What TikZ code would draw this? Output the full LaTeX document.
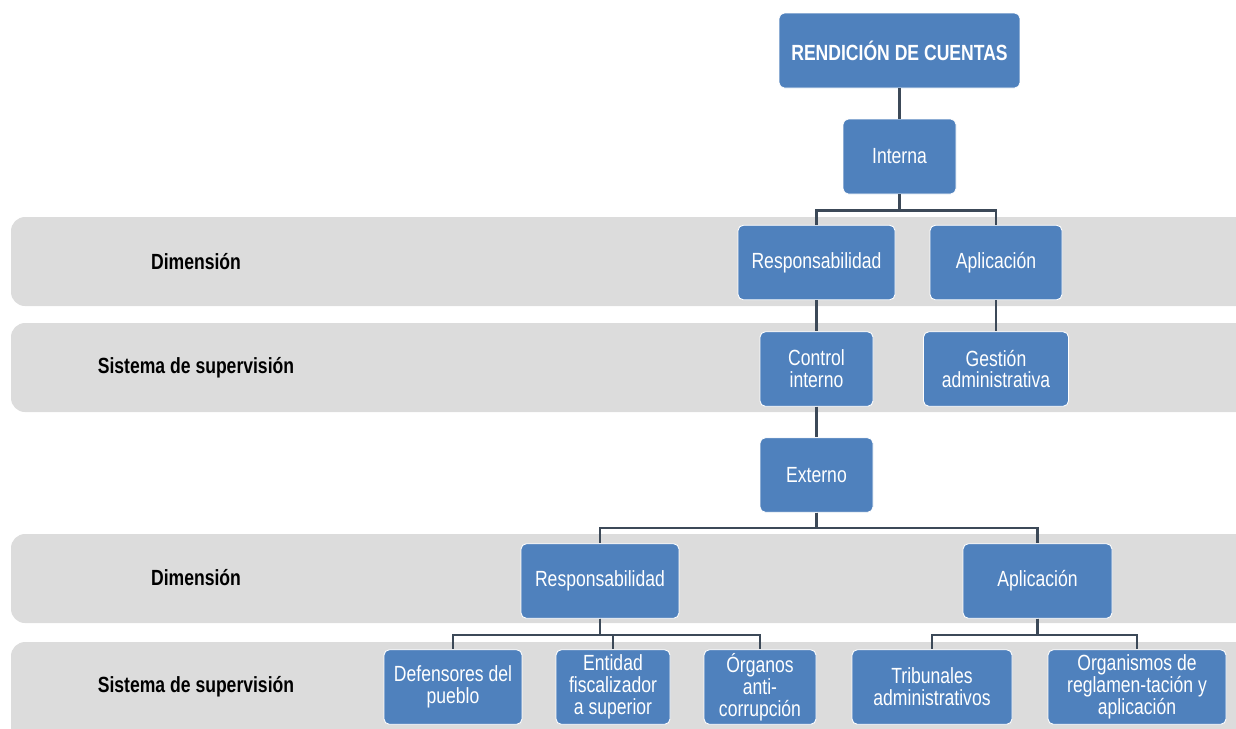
\documentclass[tikz,border=0pt]{standalone}
\usepackage{fontspec}
\setmainfont{Liberation Sans}[FakeStretch=0.8]
\usepackage{tikz}
\definecolor{azul}{HTML}{4F81BD}
\definecolor{franja}{HTML}{DCDCDC}
\definecolor{linea}{HTML}{3C4958}
\newcommand{\tamano}{\fontsize{12.5}{12.5}\selectfont}
\tikzstyle{caja}=[draw=white, line width=0.5pt, fill=azul, rounded corners=3pt, text=white, align=center, inner sep=0pt, minimum height=1.49cm, font=\tamano]
\tikzstyle{etiqueta}=[align=center, font=\tamano\bfseries]
\tikzstyle{conector}=[draw=linea, line width=1.3pt]

\begin{document}
\begin{tikzpicture}[x=0.02cm,y=-0.02cm]
\useasboundingbox (0,0) rectangle (1236,728);
\clip (0,0) rectangle (1236,728);
% franjas grises
\fill[franja, rounded corners=8pt] (11,217) rectangle (1270,306);
\fill[franja, rounded corners=8pt] (11,323) rectangle (1270,412);
\fill[franja, rounded corners=8pt] (11,534) rectangle (1270,623);
\fill[franja, rounded corners=8pt] (11,642) rectangle (1270,760);
\node[etiqueta] (dim1) at (196,262) {Dimensión};
\node[etiqueta] (sis1) at (196,368) {Sistema de supervisión};
\node[etiqueta] (dim2) at (196,578) {Dimensión};
\node[etiqueta] (sis2) at (196,687) {Sistema de supervisión};
% arbol
\node[caja, font=\tamano\bfseries, minimum width=4.82cm, minimum height=1.5cm] (rc) at (899.5,50.5) {RENDICIÓN DE CUENTAS};
\node[caja, minimum width=2.26cm, minimum height=1.5cm] (int) at (899.5,156.5) {Interna};
\node[caja, minimum width=3.14cm] (res1) at (816.5,262.5) {Responsabilidad};
\node[caja, minimum width=2.64cm] (apl1) at (996,262.5) {Aplicación};
\node[caja, minimum width=2.26cm] (ci) at (816.5,369) {Control\\interno};
\node[caja, minimum width=2.9cm] (ga) at (996,369) {Gestión\\administrativa};
\node[caja, minimum width=2.26cm] (ext) at (816.5,475) {Externo};
\node[caja, minimum width=3.16cm] (res2) at (600,581) {Responsabilidad};
\node[caja, minimum width=2.98cm] (apl2) at (1037.5,581) {Aplicación};
\node[caja, minimum width=2.76cm] (def) at (453,687) {Defensores del\\pueblo};
\node[caja, minimum width=2.28cm] (efs) at (613,687) {Entidad\\fiscalizador\\a superior};
\node[caja, minimum width=2.24cm] (oac) at (760,687) {Órganos\\anti-\\corrupción};
\node[caja, minimum width=3.2cm] (tri) at (932,687) {Tribunales\\administrativos};
\node[caja, minimum width=3.56cm] (org) at (1137,687) {Organismos de\\reglamen-tación y\\aplicación};
% conectores
\draw[conector] (rc) -- (int);
\draw[conector] (int.south) -- ++(0,16) -| (res1.north);
\draw[conector] (int.south) -- ++(0,16) -| (apl1.north);
\draw[conector] (res1) -- (ci);
\draw[conector] (apl1) -- (ga);
\draw[conector] (ci) -- (ext);
\draw[conector] (ext.south) -- ++(0,15) -| (res2.north);
\draw[conector] (ext.south) -- ++(0,15) -| (apl2.north);
\draw[conector] (res2.south) -- ++(0,16) -| (def.north);
\draw[conector] (res2.south) -- ++(0,16) -| (efs.north);
\draw[conector] (res2.south) -- ++(0,16) -| (oac.north);
\draw[conector] (apl2.south) -- ++(0,16) -| (tri.north);
\draw[conector] (apl2.south) -- ++(0,16) -| (org.north);
\end{tikzpicture}
\end{document}
